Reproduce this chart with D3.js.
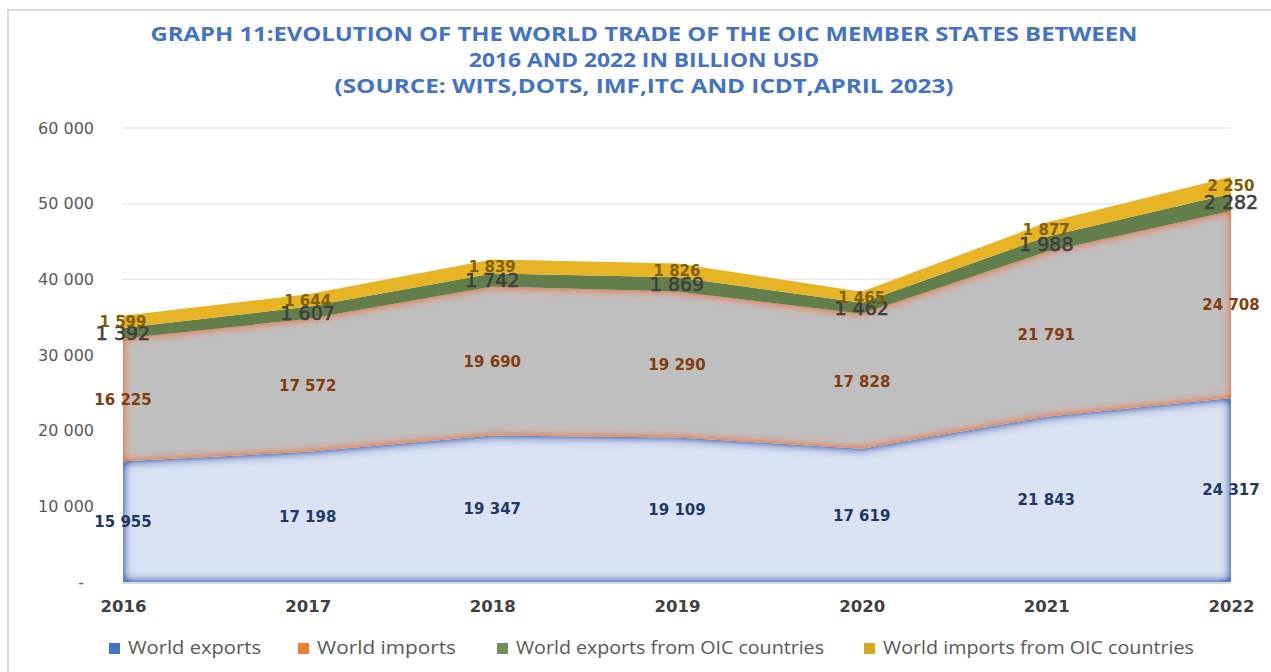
<!DOCTYPE html>
<html>
<head>
<meta charset="utf-8">
<script src="https://cdn.jsdelivr.net/npm/d3@7"></script>
<style>
  body { margin: 0; background: #fff; }
  svg { display: block; }
</style>
</head>
<body>
<div id="div_area"></div>
<script>
// data (billion USD)
var years = ["2016", "2017", "2018", "2019", "2020", "2021", "2022"];
var worldExports = [15955, 17198, 19347, 19109, 17619, 21843, 24317];
var worldImports = [16225, 17572, 19690, 19290, 17828, 21791, 24708];
var oicExports = [1392, 1607, 1742, 1869, 1462, 1988, 2282];
var oicImports = [1599, 1644, 1839, 1826, 1465, 1877, 2250];
var yTicks = [0, 10000, 20000, 30000, 40000, 50000, 60000];
var seriesNames = ["World exports", "World imports", "World exports from OIC countries", "World imports from OIC countries"];
var titleLines = [
  "GRAPH 11:EVOLUTION OF THE WORLD TRADE OF THE OIC MEMBER STATES BETWEEN",
  "2016 AND 2022 IN BILLION USD",
  "(SOURCE: WITS,DOTS, IMF,ITC AND ICDT,APRIL 2023)"
];

var keys = ["exp", "imp", "oicExp", "oicImp"];
var rows = years.map(function(y, i) {
  return { year: y, exp: worldExports[i], imp: worldImports[i], oicExp: oicExports[i], oicImp: oicImports[i] };
});

var w = 1271, h = 672;

var svg = d3.select("#div_area")
            .append("svg")
            .attr("width", w)
            .attr("height", h);

// soft inner edges like the office "soft edge" effect
var defs = svg.append("defs");
function innerGlow(id, color, sd, boost) {
  var f = defs.append("filter").attr("id", id)
              .attr("x", "-10%").attr("y", "-20%").attr("width", "120%").attr("height", "140%");
  f.append("feFlood").attr("flood-color", color).attr("result", "c");
  f.append("feComposite").attr("in", "c").attr("in2", "SourceAlpha").attr("operator", "out").attr("result", "o");
  f.append("feGaussianBlur").attr("in", "o").attr("stdDeviation", sd).attr("result", "b");
  f.append("feComponentTransfer").attr("in", "b").attr("result", "bb")
   .append("feFuncA").attr("type", "linear").attr("slope", boost);
  f.append("feComposite").attr("in", "bb").attr("in2", "SourceAlpha").attr("operator", "in").attr("result", "g");
  var m = f.append("feMerge");
  m.append("feMergeNode").attr("in", "SourceGraphic");
  m.append("feMergeNode").attr("in", "g");
}
innerGlow("glowBlue", "#5f80c4", 5.5, 2);
innerGlow("glowOrange", "#e08550", 5, 1.8);

// chart frame
svg.append("rect")
   .attr("x", 8).attr("y", 10)
   .attr("width", 1400).attr("height", 800)
   .attr("fill", "#fff")
   .attr("stroke", "#d9d9d9")
   .attr("stroke-width", 2);

// title
svg.append("g")
   .selectAll("text")
   .data(titleLines)
   .enter()
   .append("text")
   .attr("x", 644)
   .attr("y", function(d, i) { return 41 + i * 26; })
   .attr("text-anchor", "middle")
   .attr("textLength", function(d, i) { return [987, 350, 619][i]; })
   .attr("lengthAdjust", "spacingAndGlyphs")
   .attr("font-family", "'Open Sans', sans-serif")
   .attr("font-weight", "bold")
   .attr("font-size", 20)
   .attr("fill", "#4472c4")
   .text(function(d) { return d; });

//Scales
var x = d3.scalePoint().domain(years).range([123, 1231]);
var y = d3.scaleLinear().domain([0, 60000]).range([582, 128]);

var fmt = d3.formatLocale({ decimal: ".", thousands: " ", grouping: [3], currency: ["", ""] }).format(",d");

// gridlines
svg.append("g")
   .selectAll("line")
   .data(yTicks.slice(1))
   .enter()
   .append("line")
   .attr("x1", 122).attr("x2", 1231)
   .attr("y1", function(d) { return y(d); })
   .attr("y2", function(d) { return y(d); })
   .attr("stroke", "#ebebeb")
   .attr("stroke-width", 1.5);

// y axis
var yAxis = svg.append("g")
   .attr("transform", "translate(94,0)")
   .call(d3.axisLeft(y).tickValues(yTicks).tickSize(0).tickPadding(0)
           .tickFormat(function(d) { return d === 0 ? "-" : fmt(d); }));
yAxis.select(".domain").remove();
yAxis.selectAll("text")
     .attr("font-family", "'DejaVu Sans', sans-serif")
     .attr("font-size", 16)
     .attr("fill", "#595959")
     .attr("dx", function(d) { return d === 0 ? -10 : 0; });

// stacked areas
var stack = d3.stack().keys(keys);
var series = stack(rows);

var area = d3.area()
             .x(function(d) { return x(d.data.year); })
             .y0(function(d) { return y(d[0]); })
             .y1(function(d) { return y(d[1]); });

var fills = { exp: "#dae3f3", imp: "#bfbfbf", oicExp: "#627e4a", oicImp: "#e6b425" };
var filters = { exp: "url(#glowBlue)", imp: "url(#glowOrange)", oicExp: null, oicImp: null };

svg.append("g")
   .selectAll("path")
   .data(series)
   .enter()
   .append("path")
   .attr("fill", function(d) { return fills[d.key]; })
   .attr("filter", function(d) { return filters[d.key]; })
   .attr("d", area);

// base line
svg.append("line")
   .attr("x1", 122).attr("x2", 1231)
   .attr("y1", 583).attr("y2", 583)
   .attr("stroke", "#d9d9d9")
   .attr("stroke-width", 2);

// x axis labels
var xAxis = svg.append("g")
   .attr("transform", "translate(0,600)")
   .call(d3.axisBottom(x).tickSize(0).tickPadding(0));
xAxis.select(".domain").remove();
xAxis.selectAll("text")
     .attr("dy", "0.75em")
     .attr("font-family", "'DejaVu Sans', sans-serif")
     .attr("font-weight", "bold")
     .attr("font-size", 16.5)
     .attr("fill", "#404040");

// data labels
var labelStyle = {
  exp:    { color: "#1f3864", size: 15,   weight: "bold" },
  imp:    { color: "#843c0c", size: 15,   weight: "bold" },
  oicExp: { color: "#404040", size: 19,   weight: "normal" },
  oicImp: { color: "#7f6000", size: 15,   weight: "bold" }
};

var labelGroups = svg.append("g")
   .selectAll("g")
   .data(series)
   .enter()
   .append("g");

labelGroups.selectAll("text")
   .data(function(s) { return s.map(function(d) { return { key: s.key, d: d }; }); })
   .enter()
   .append("text")
   .attr("x", function(o) { return x(o.d.data.year); })
   .attr("y", function(o) { return y((o.d[0] + o.d[1]) / 2); })
   .attr("dy", "0.36em")
   .attr("text-anchor", "middle")
   .attr("font-family", "'DejaVu Sans', sans-serif")
   .attr("font-weight", function(o) { return labelStyle[o.key].weight; })
   .attr("font-size", function(o) { return labelStyle[o.key].size; })
   .attr("fill", function(o) { return labelStyle[o.key].color; })
   .attr("stroke", function(o) { return o.key === "oicExp" ? "#404040" : null; })
   .attr("stroke-width", function(o) { return o.key === "oicExp" ? 0.6 : null; })
   .text(function(o) { return fmt(o.d.data[o.key]); });

// legend
var legendColors = ["#4472c4", "#ed7d31", "#70905a", "#d9a81c"];
var legendX = [109, 298, 497, 864];
var legendW = [133, 139, 308, 311];

var legend = svg.append("g")
   .selectAll("g")
   .data(seriesNames)
   .enter()
   .append("g")
   .attr("transform", function(d, i) { return "translate(" + legendX[i] + ",643)"; });

legend.append("rect")
      .attr("width", 11).attr("height", 11)
      .attr("fill", function(d, i) { return legendColors[i]; });

legend.append("text")
      .attr("x", 19)
      .attr("y", 11)
      .attr("textLength", function(d, i) { return legendW[i]; })
      .attr("lengthAdjust", "spacingAndGlyphs")
      .attr("font-family", "'Open Sans', sans-serif")
      .attr("font-size", 17.5)
      .attr("fill", "#595959")
      .text(function(d) { return d; });
</script>
</body>
</html>
